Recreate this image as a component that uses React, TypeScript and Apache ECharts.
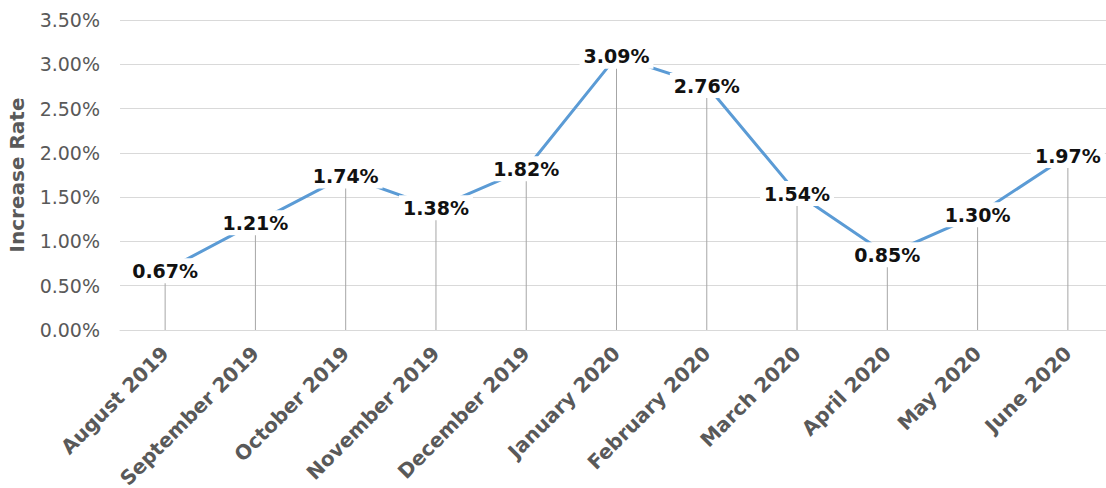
import React, { useEffect, useRef } from "react";
import * as echarts from "echarts";

const categories = [
  "August 2019",
  "September 2019",
  "October 2019",
  "November 2019",
  "December 2019",
  "January 2020",
  "February 2020",
  "March 2020",
  "April 2020",
  "May 2020",
  "June 2020",
];
const rates = [0.67, 1.21, 1.74, 1.38, 1.82, 3.09, 2.76, 1.54, 0.85, 1.3, 1.97];
const yAxisTitle = "Increase Rate";

export default function App() {
  const ref = useRef<HTMLDivElement>(null);
  useEffect(() => {
    if (!ref.current) return;
    const chart = echarts.init(ref.current, undefined, { renderer: "svg" });
    const font = "'DejaVu Sans', 'Open Sans', sans-serif";
    chart.setOption({
      animation: false,
      backgroundColor: "#ffffff",
      textStyle: { fontFamily: font },
      grid: {
        left: 120,
        top: 20,
        width: 993,
        height: 310,
        containLabel: false,
        outerBoundsMode: "none",
      },
      xAxis: {
        type: "category",
        data: categories,
        boundaryGap: true,
        axisLine: { show: true, lineStyle: { color: "#d9d9d9", width: 1 } },
        axisTick: { show: false },
        axisLabel: {
          rotate: 45,
          margin: 20,
          interval: 0,
          color: "#595959",
          fontSize: 20,
          fontWeight: "bold",
          fontFamily: font,
        },
      },
      yAxis: {
        type: "value",
        min: 0,
        max: 3.5,
        interval: 0.5,
        name: yAxisTitle,
        nameLocation: "middle",
        nameGap: 93,
        nameTextStyle: { color: "#595959", fontSize: 20, fontWeight: "bold", fontFamily: font },
        axisLine: { show: false },
        axisTick: { show: false },
        splitLine: { lineStyle: { color: "#d9d9d9", width: 1 } },
        axisLabel: {
          color: "#595959",
          fontSize: 19,
          margin: 20,
          fontFamily: font,
          formatter: (v: number) => v.toFixed(2) + "%",
        },
      },
      series: [
        {
          type: "bar",
          data: rates,
          barWidth: 1,
          itemStyle: { color: "#a6a6a6" },
          z: 1,
          silent: true,
        },
        {
          type: "line",
          data: rates,
          showSymbol: true,
          symbol: "circle",
          symbolSize: 2,
          itemStyle: { color: "rgba(0,0,0,0)", borderWidth: 0 },
          lineStyle: { color: "#5b9bd5", width: 3 },
          z: 2,
          label: {
            show: true,
            position: "inside",
            formatter: (p: any) => p.value.toFixed(2) + "%",
            color: "#111111",
            fontSize: 19,
            fontWeight: "bold",
            fontFamily: font,
            backgroundColor: "#ffffff",
            padding: [3, 4],
          },
        },
      ],
    });
    return () => chart.dispose();
  }, []);
  return <div ref={ref} style={{ width: 1106, height: 488, position: "absolute", left: 0, top: 0 }} />;
}
